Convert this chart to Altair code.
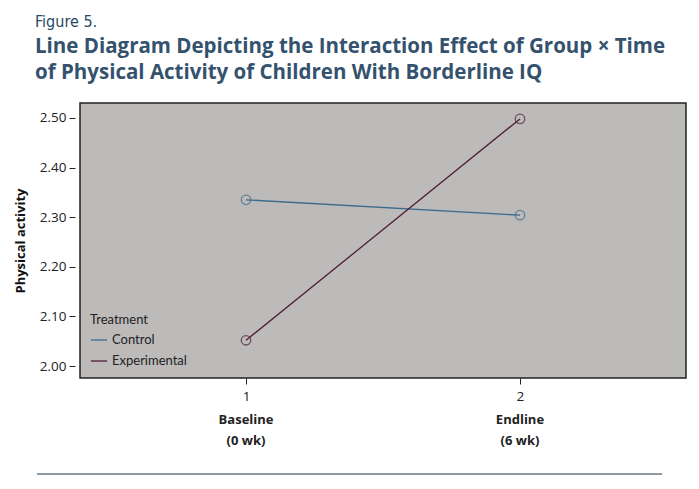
import altair as alt
import pandas as pd

groups = ["Control", "Experimental"]
times = [1, 2]
control_vals = [2.335, 2.304]
experimental_vals = [2.052, 2.498]
time_labels = ["Baseline\n(0 wk)", "Endline\n(6 wk)"]
y_ticks = [2.00, 2.10, 2.20, 2.30, 2.40, 2.50]
colors = ["#3c6a8c", "#4e1c3a"]

rows = []
for t, v in zip(times, control_vals):
    rows.append({"Treatment": "Control", "time": t, "value": v})
for t, v in zip(times, experimental_vals):
    rows.append({"Treatment": "Experimental", "time": t, "value": v})
df = pd.DataFrame(rows)
lab_df = pd.DataFrame({"time": times, "label": time_labels})

W, H = 606, 275
FONT = "Open Sans"
LFONT = "Lato"

xscale = alt.Scale(domain=[0.394, 2.606], nice=False, zero=False)
yscale = alt.Scale(domain=[1.976, 2.530], nice=False, zero=False)
color = alt.Color("Treatment:N",
                  scale=alt.Scale(domain=groups, range=colors),
                  legend=alt.Legend(title="Treatment", orient="none", legendX=10, legendY=211,
                                    symbolType="stroke", symbolSize=260, symbolStrokeWidth=1.3,
                                    titleFontWeight="normal", titleFontSize=13, labelFontSize=13,
                                    titleFont=LFONT, labelFont=LFONT, titleColor="#222",
                                    labelColor="#222", rowPadding=5, titlePadding=4))

x = alt.X("time:Q", scale=xscale,
          axis=alt.Axis(values=times, format="d", title=None, grid=False, domain=False,
                        tickSize=6, tickColor="#222", labelFontSize=13.5, labelFont=FONT,
                        labelColor="#222", labelPadding=5))
y = alt.Y("value:Q", scale=yscale,
          axis=alt.Axis(values=y_ticks, format=".2f", title="Physical activity", grid=False,
                        domain=False, offset=5, tickSize=6, tickColor="#222", labelFontSize=13.5,
                        labelFont=FONT, labelColor="#222", labelPadding=3, titleFont=FONT,
                        titleFontSize=13, titleFontWeight="bold", titleColor="#111",
                        titlePadding=12))

lines = alt.Chart(df).mark_line(strokeWidth=1.3).encode(x=x, y=y, color=color, detail="Treatment:N")
pts = alt.Chart(df).mark_point(shape="circle", size=90, filled=False, strokeWidth=1.3).encode(
    x=x, y=y, color=alt.Color("Treatment:N", scale=alt.Scale(domain=groups, range=colors), legend=None))

labels = alt.Chart(lab_df).mark_text(fontSize=13, fontWeight="bold", font=FONT, color="#222",
                                     lineBreak="\n", lineHeight=21, baseline="middle").encode(
    x=alt.X("time:Q", scale=xscale), y=alt.value(317), text="label:N")

rule = alt.Chart(lab_df).mark_rule(color="#6b7a86", strokeWidth=1).encode(
    x=alt.value(-43), x2=alt.value(582), y=alt.value(371))

chart = alt.layer(lines, pts, labels, rule).properties(
    width=W, height=H,
    title=alt.TitleParams(
        text="Figure 5.",
        subtitle=["Line Diagram Depicting the Interaction Effect of Group × Time",
                  "of Physical Activity of Children With Borderline IQ"],
        anchor="start", frame="group", dx=-45, offset=20,
        font="DejaVu Sans Condensed", fontSize=16, fontWeight=500, color="#2a4a66",
        subtitleFont=FONT, subtitleFontSize=20.5, subtitleFontWeight="bold",
        subtitleColor="#34526e", subtitleLineHeight=26, subtitlePadding=7),
    autosize=alt.AutoSizeParams(type="none"),
    padding={"left": 80, "top": 103, "right": 13, "bottom": 111},
    background="white",
).configure_view(fill="#bdbbb9", stroke="#222", strokeWidth=1.5)

chart.save("out.html", embed_options={"renderer": "svg", "actions": False})
